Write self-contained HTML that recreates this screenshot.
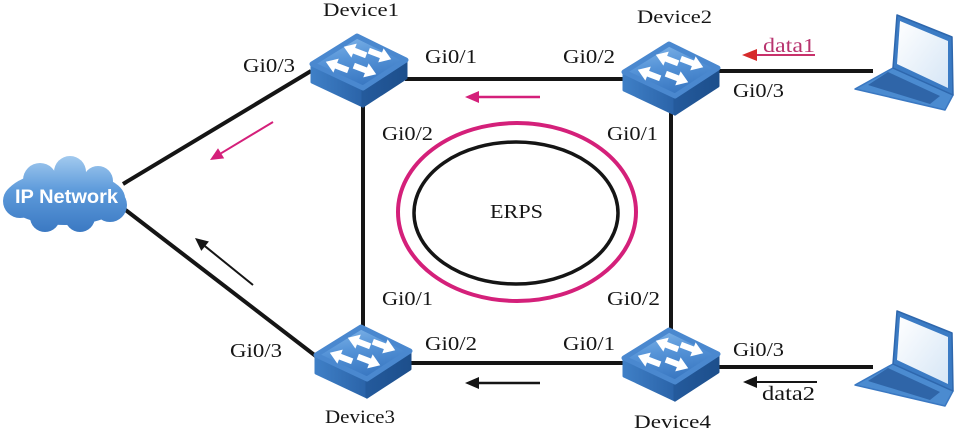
<!DOCTYPE html>
<html>
<head>
<meta charset="utf-8">
<style>
  html,body{margin:0;padding:0;background:#fff;}
  svg{display:block;}
  .lbl{font-family:"Liberation Serif",serif;font-size:20px;fill:#161616;}
  .dev{font-family:"Liberation Serif",serif;font-size:19px;fill:#161616;}
</style>
</head>
<body>
<svg width="957" height="429" viewBox="0 0 957 429" xmlns="http://www.w3.org/2000/svg">
  <defs>
    <linearGradient id="topg" x1="0" y1="0" x2="0.3" y2="1">
      <stop offset="0" stop-color="#86b9ea"/>
      <stop offset="0.5" stop-color="#5694d8"/>
      <stop offset="1" stop-color="#3a78c2"/>
    </linearGradient>
    <linearGradient id="leftg" x1="0" y1="0" x2="1" y2="0">
      <stop offset="0" stop-color="#3f7fc6"/>
      <stop offset="1" stop-color="#2a63a8"/>
    </linearGradient>
    <linearGradient id="rightg" x1="0" y1="0" x2="1" y2="0">
      <stop offset="0" stop-color="#245a9c"/>
      <stop offset="1" stop-color="#1d4f8c"/>
    </linearGradient>
    <linearGradient id="cloudg" gradientUnits="userSpaceOnUse" x1="0" y1="155" x2="0" y2="233">
      <stop offset="0" stop-color="#a4cbef"/>
      <stop offset="0.45" stop-color="#5e9bdb"/>
      <stop offset="1" stop-color="#3a78c2"/>
    </linearGradient>
    <linearGradient id="screeng" x1="0" y1="0" x2="1" y2="1">
      <stop offset="0" stop-color="#ffffff"/>
      <stop offset="1" stop-color="#d6e6f6"/>
    </linearGradient>
    <polygon id="arr" points="-12,-3 1,-3 1,-7.5 12,0 1,7.5 1,3 -12,3" fill="#fff"/>
    <g id="sw">
      <path d="M2,30 L53,54 L53,72 L2,48 Z" fill="url(#leftg)" stroke="url(#leftg)" stroke-width="3" stroke-linejoin="round"/>
      <path d="M53,54 L96,26 L96,44 L53,72 Z" fill="url(#rightg)" stroke="url(#rightg)" stroke-width="3" stroke-linejoin="round"/>
      <path d="M2,30 L47,2 L96,26 L53,54 Z" fill="url(#topg)" stroke="#4a88cf" stroke-width="5" stroke-linejoin="round"/>
      <use href="#arr" transform="translate(45,17) rotate(201)"/>
      <use href="#arr" transform="translate(70,21) rotate(21)"/>
      <use href="#arr" transform="translate(27,32) rotate(201)"/>
      <use href="#arr" transform="translate(55,36) rotate(21)"/>
    </g>
    <g id="laptop">
      <polygon points="893,68 953,95 945,110 855,89" fill="#4b8bd0" stroke="#3a78c2" stroke-width="1.5" stroke-linejoin="round"/>
      <polygon points="888,72 940,96 930,104 868,85" fill="#2f65a8"/>
      <polygon points="880,96 894,100 890,103 876,99" fill="#ffffff"/>
      <polygon points="897,15 952,37 953,95 893,68" fill="#3b7bc4" stroke="#2e67ad" stroke-width="1.5" stroke-linejoin="round"/>
      <polygon points="900,21 948,41 948,88 897,64" fill="url(#screeng)"/>
    </g>
  </defs>

  <!-- main links -->
  <g stroke="#151515" stroke-width="4" fill="none">
    <line x1="123" y1="184" x2="311" y2="71"/>
    <line x1="123" y1="208" x2="317" y2="357"/>
    <line x1="405" y1="79" x2="625" y2="79"/>
    <line x1="410" y1="363" x2="625" y2="363"/>
    <line x1="363" y1="95" x2="363" y2="330"/>
    <line x1="671" y1="105" x2="671" y2="332"/>
    <line x1="717" y1="71" x2="873" y2="71"/>
    <line x1="717" y1="367" x2="873" y2="367"/>
  </g>

  <!-- ERPS rings -->
  <ellipse cx="517" cy="212" rx="119" ry="89" fill="none" stroke="#d4207a" stroke-width="4"/>
  <ellipse cx="516" cy="213" rx="102" ry="71" fill="none" stroke="#151515" stroke-width="3.5"/>
  <text x="490" y="218" font-family="Liberation Serif, serif" font-size="20" fill="#161616" textLength="53" lengthAdjust="spacingAndGlyphs">ERPS</text>

  <!-- flow arrows -->
  <line x1="540" y1="97" x2="476" y2="97" stroke="#d4207a" stroke-width="2.5"/>
  <polygon points="465,97 479,91 479,103" fill="#d4207a"/>
  <line x1="540" y1="383" x2="476" y2="383" stroke="#151515" stroke-width="2.5"/>
  <polygon points="465,383 479,377 479,389" fill="#151515"/>
  <line x1="273" y1="122" x2="221" y2="153.3" stroke="#d4207a" stroke-width="2"/>
  <polygon points="210,160 224.2,158.4 218,148.2" fill="#d4207a"/>
  <line x1="253" y1="285" x2="205" y2="246.2" stroke="#151515" stroke-width="2"/>
  <polygon points="195,238 208.9,241.5 201.3,250.9" fill="#151515"/>

  <!-- data arrows -->
  <line x1="815" y1="55" x2="752" y2="55" stroke="#c8306a" stroke-width="2"/>
  <polygon points="742,55 757,49 757,61" fill="#d62b2b"/>
  <text x="763" y="52" font-family="Liberation Serif, serif" font-size="20" fill="#b8336e" textLength="52" lengthAdjust="spacingAndGlyphs">data1</text>
  <line x1="817" y1="382" x2="752" y2="382" stroke="#151515" stroke-width="2"/>
  <polygon points="743,382 757,376 757,388" fill="#151515"/>
  <text x="762" y="400" font-family="Liberation Serif, serif" font-size="20" fill="#161616" textLength="53" lengthAdjust="spacingAndGlyphs">data2</text>

  <!-- cloud -->
  <g fill="url(#cloudg)">
    <ellipse cx="65" cy="198" rx="60" ry="27"/>
    <circle cx="40" cy="180" r="17"/>
    <circle cx="70" cy="172" r="16"/>
    <circle cx="98" cy="181" r="15"/>
    <circle cx="20" cy="201" r="17"/>
    <circle cx="110" cy="205" r="17"/>
    <circle cx="45" cy="217" r="15"/>
    <circle cx="80" cy="217" r="15"/>
  </g>
  <text x="15" y="203" font-family="Liberation Sans, sans-serif" font-weight="bold" font-size="19" fill="#fff" textLength="103" lengthAdjust="spacingAndGlyphs">IP Network</text>

  <!-- switches -->
  <use href="#sw" transform="translate(310,34)"/>
  <use href="#sw" transform="translate(622,42)"/>
  <use href="#sw" transform="translate(314,325)"/>
  <use href="#sw" transform="translate(622,328)"/>

  <!-- laptops -->
  <use href="#laptop"/>
  <use href="#laptop" transform="translate(0,296)"/>

  <!-- device labels -->
  <text class="dev" x="323" y="16" textLength="76" lengthAdjust="spacingAndGlyphs">Device1</text>
  <text class="dev" x="637" y="23" textLength="75" lengthAdjust="spacingAndGlyphs">Device2</text>
  <text class="dev" x="325" y="423" textLength="70" lengthAdjust="spacingAndGlyphs">Device3</text>
  <text class="dev" x="634" y="428" textLength="77" lengthAdjust="spacingAndGlyphs">Device4</text>

  <!-- port labels -->
  <text class="lbl" x="243" y="72" textLength="52" lengthAdjust="spacingAndGlyphs">Gi0/3</text>
  <text class="lbl" x="425" y="63" textLength="52" lengthAdjust="spacingAndGlyphs">Gi0/1</text>
  <text class="lbl" x="563" y="63" textLength="52" lengthAdjust="spacingAndGlyphs">Gi0/2</text>
  <text class="lbl" x="733" y="97" textLength="51" lengthAdjust="spacingAndGlyphs">Gi0/3</text>
  <text class="lbl" x="382" y="140" textLength="51" lengthAdjust="spacingAndGlyphs">Gi0/2</text>
  <text class="lbl" x="607" y="140" textLength="51" lengthAdjust="spacingAndGlyphs">Gi0/1</text>
  <text class="lbl" x="382" y="305" textLength="51" lengthAdjust="spacingAndGlyphs">Gi0/1</text>
  <text class="lbl" x="607" y="305" textLength="53" lengthAdjust="spacingAndGlyphs">Gi0/2</text>
  <text class="lbl" x="230" y="357" textLength="52" lengthAdjust="spacingAndGlyphs">Gi0/3</text>
  <text class="lbl" x="425" y="350" textLength="52" lengthAdjust="spacingAndGlyphs">Gi0/2</text>
  <text class="lbl" x="563" y="350" textLength="52" lengthAdjust="spacingAndGlyphs">Gi0/1</text>
  <text class="lbl" x="733" y="356" textLength="51" lengthAdjust="spacingAndGlyphs">Gi0/3</text>
</svg>
</body>
</html>
